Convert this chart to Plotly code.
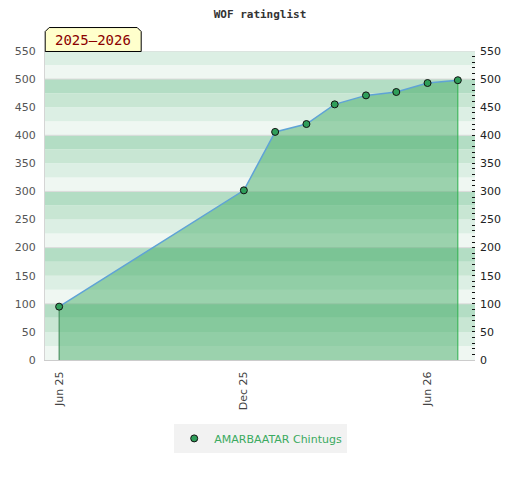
import plotly.graph_objects as go

# ---- data ----
dates = ['2025-06-01', '2025-12-01', '2026-01-01', '2026-02-01', '2026-03-01',
         '2026-04-01', '2026-05-01', '2026-06-01', '2026-07-01']
ratings = [95, 302, 406, 420, 455, 471, 477, 493, 498]
player = 'AMARBAATAR Chintugs'
season = '2025–2026'
x_tick_vals = ['2025-06-01', '2025-12-01', '2026-06-01']
x_tick_text = ['Jun 25', 'Dec 25', 'Jun 26']
y_max = 550
band_step = 25
band_colors = ['#eff7f2', '#dcefe4', '#c8e6d3', '#b3ddc4']  # 0-25,25-50,50-75,75-100 within each hundred

OFF = 8  # page body margin
W, H = 520, 480
L, T = 45.3 - OFF, 50.5 - OFF
pw, ph = 430, 309.5
R = W - L - pw
B = H - T - ph

fig = go.Figure()

# area fill
fig.add_trace(go.Scatter(
    x=dates, y=ratings, mode='none', fill='tozeroy',
    fillcolor='rgba(62,170,98,0.48)', showlegend=False, hoverinfo='skip'))

# vertical edge lines at first and last points
fig.add_trace(go.Scatter(x=[dates[0], dates[0]], y=[0, ratings[0]], mode='lines',
                         line=dict(color='#3a8552', width=1), showlegend=False, hoverinfo='skip'))
fig.add_trace(go.Scatter(x=[dates[-1], dates[-1]], y=[0, ratings[-1]], mode='lines',
                         line=dict(color='#2fb04e', width=1), showlegend=False, hoverinfo='skip'))

# main line
fig.add_trace(go.Scatter(x=dates, y=ratings, mode='lines',
                         line=dict(color='#5fa3d6', width=1.5), showlegend=False, hoverinfo='skip'))
# markers
fig.add_trace(go.Scatter(x=dates, y=ratings, mode='markers', name=player,
                         marker=dict(color='#2f9e5a', size=7, line=dict(color='#111', width=1))))

# invisible trace for right axis
fig.add_trace(go.Scatter(x=[dates[0]], y=[0], yaxis='y2', mode='markers',
                         marker=dict(opacity=0), showlegend=False, hoverinfo='skip'))

shapes = []
# background bands
for lo in range(0, y_max, band_step):
    idx = (lo % 100) // band_step
    shapes.append(dict(type='rect', xref='paper', yref='y', x0=0, x1=1, y0=lo, y1=lo + band_step,
                       fillcolor=band_colors[idx], line=dict(width=0), layer='below'))
# grid lines at hundreds and top border
for g in list(range(100, y_max, 100)) + [y_max]:
    shapes.append(dict(type='line', xref='paper', yref='y', x0=0, x1=1, y0=g, y1=g,
                       line=dict(color='#dadada', width=1), layer='below'))

# helpers: page pixel -> paper coords
def px(x):
    return (x - OFF - L) / pw
def py(y):
    return (T + ph - (y - OFF)) / ph

# season label box with chamfered top corners
x0b, x1b, y0b, y1b, c = 45.5, 141.5, 27, 51, 4
path = (f"M {px(x0b)},{py(y1b)} L {px(x0b)},{py(y0b + c)} L {px(x0b + c)},{py(y0b)} "
        f"L {px(x1b - c)},{py(y0b)} L {px(x1b)},{py(y0b + c)} L {px(x1b)},{py(y1b)} Z")
shapes.append(dict(type='path', xref='paper', yref='paper', path=path,
                   fillcolor='#ffffcc', line=dict(color='#000', width=1), layer='above'))

fig.update_layout(
    width=W, height=H,
    margin=dict(l=L, r=R, t=T, b=B, autoexpand=False),
    paper_bgcolor='white', plot_bgcolor='white',
    title=dict(text='WOF ratinglist', x=(260 - OFF) / W, xref='container', xanchor='center',
               y=1 - (14 - OFF) / H, yref='container', yanchor='middle',
               font=dict(family='DejaVu Sans Mono', size=11, color='#333', weight='bold')),
    shapes=shapes,
    annotations=[dict(text=season, xref='paper', yref='paper', x=px(93.5), y=py(39.5),
                      xanchor='center', yanchor='middle', showarrow=False,
                      font=dict(family='DejaVu Sans Mono', size=14, color='#8b0000'))],
    xaxis=dict(type='date', range=['2025-05-18', '2026-07-18'], tickvals=x_tick_vals,
               ticktext=x_tick_text, tickangle=-90, showgrid=False, zeroline=False,
               showline=True, linecolor='#cccccc', linewidth=1, ticks='',
               tickfont=dict(family='DejaVu Sans', size=11, color='#444'),
               ticklabelstandoff=6, fixedrange=True, automargin=False),
    yaxis=dict(range=[0, y_max], dtick=50, showgrid=False, zeroline=False,
               showline=True, linecolor='#d5d5d5', linewidth=1, ticks='',
               tickfont=dict(family='DejaVu Sans', size=11, color='#555'),
               ticklabelstandoff=6, fixedrange=True, automargin=False),
    yaxis2=dict(range=[0, y_max], dtick=50, overlaying='y', side='right', showgrid=False,
                zeroline=False, showline=False, ticks='inside', ticklen=3, tickwidth=1,
                tickcolor='#111',
                minor=dict(dtick=10, ticks='inside', ticklen=3, tickwidth=1, tickcolor='#111', showgrid=False),
                tickfont=dict(family='DejaVu Sans', size=11, color='#222'),
                ticklabelstandoff=4, fixedrange=True, automargin=False),
    legend=dict(orientation='h', x=px(261), xanchor='center', y=py(424), yanchor='top',
                bgcolor='#f2f2f2', font=dict(family='DejaVu Sans', size=11, color='#3aaa60')),
    showlegend=True,
)

fig.write_html('out.html')
